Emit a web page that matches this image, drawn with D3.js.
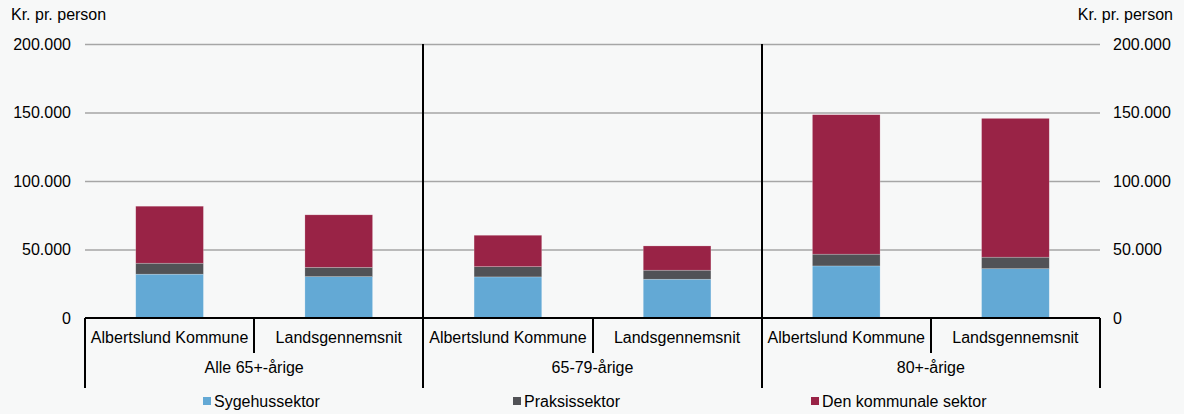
<!DOCTYPE html>
<html>
<head>
<meta charset="utf-8">
<script src="https://cdn.jsdelivr.net/npm/d3@7"></script>
<style>
  html, body { margin: 0; padding: 0; background: #f7f8f8; }
  svg { display: block; font-family: "Liberation Sans", Arial, sans-serif; }
</style>
</head>
<body>
<svg id="chart" width="1184" height="414"></svg>
<script>
// ---- Data ----
const groups = ["Alle 65+-årige", "65-79-årige", "80+-årige"];
const subCategories = ["Albertslund Kommune", "Landsgennemsnit"];
const seriesNames = ["Sygehussektor", "Praksissektor", "Den kommunale sektor"];
const sygehussektor = [32000, 30200, 30000, 28300, 38000, 36000];
const praksissektor = [8000, 6800, 7500, 6600, 8600, 8400];
const kommunaleSektor = [41600, 38300, 22900, 17700, 101800, 101300];
const yTicks = [0, 50000, 100000, 150000, 200000];
const axisTitle = "Kr. pr. person";
const colors = ["#63a9d5", "#515256", "#992346"];

(function () {
const cats = [];
groups.forEach((g, gi) => subCategories.forEach((s, si) => cats.push({ id: gi + "-" + si, group: g, gi, sub: s })));
const table = cats.map((c, i) => ({
  id: c.id,
  "Sygehussektor": sygehussektor[i],
  "Praksissektor": praksissektor[i],
  "Den kommunale sektor": kommunaleSektor[i]
}));
const stacked = d3.stack().keys(seriesNames)(table);

const svg = d3.select("#chart");
const pLeft = 85, pRight = 1100, pTop = 44, pBottom = 318;

const x = d3.scaleBand().domain(cats.map(c => c.id)).range([pLeft, pRight]).paddingInner(0.6).paddingOuter(0.3);
const y = d3.scaleLinear().domain([0, 200000]).range([pBottom, pTop]);
const fmt = d3.formatLocale({ decimal: ",", thousands: ".", grouping: [3], currency: ["", ""] }).format(",.0f");

// Gridlines
const grid = svg.append("g").attr("transform", `translate(${pLeft},0)`)
  .call(d3.axisLeft(y).tickValues(yTicks.filter(v => v > 0)).tickSize(-(pRight - pLeft)).tickFormat(""));
grid.select(".domain").remove();
grid.selectAll("line").attr("stroke", "#a6a6a6").attr("stroke-width", 1.3);

// Left axis labels
const yl = svg.append("g").attr("transform", `translate(${pLeft},0)`)
  .call(d3.axisLeft(y).tickValues(yTicks).tickSize(0).tickPadding(14).tickFormat(fmt));
yl.select(".domain").remove();
yl.selectAll("text").attr("font-size", 16).attr("fill", "#000").attr("font-family", "Liberation Sans, Arial, sans-serif");

// Right axis labels
const yr = svg.append("g").attr("transform", `translate(${pRight},0)`)
  .call(d3.axisRight(y).tickValues(yTicks).tickSize(0).tickPadding(13).tickFormat(fmt));
yr.select(".domain").remove();
yr.selectAll("text").attr("font-size", 16).attr("fill", "#000").attr("font-family", "Liberation Sans, Arial, sans-serif");

// Axis titles
svg.append("text").attr("x", 11).attr("y", 20).attr("font-size", 16).attr("fill", "#000").text(axisTitle);
svg.append("text").attr("x", 1173).attr("y", 20).attr("text-anchor", "end").attr("font-size", 16).attr("fill", "#000").text(axisTitle);

// Bars
svg.append("g").selectAll("g").data(stacked).join("g")
  .attr("fill", (d, i) => colors[i])
  .selectAll("rect").data(d => d).join("rect")
  .attr("x", d => x(d.data.id))
  .attr("width", x.bandwidth())
  .attr("y", d => y(d[1]))
  .attr("height", d => y(d[0]) - y(d[1]))
  .attr("stroke", "rgba(255,255,255,0.35)")
  .attr("stroke-width", 0.6);

// Category axis
const step = x.step();
const axisG = svg.append("g").attr("stroke", "#000").attr("stroke-width", 2);
axisG.append("line").attr("x1", pLeft).attr("x2", pRight).attr("y1", pBottom).attr("y2", pBottom);
for (let i = 0; i <= cats.length; i++) {
  const bx = Math.round(pLeft + i * step);
  const isGroupEdge = i % subCategories.length === 0;
  const isOuter = i === 0 || i === cats.length;
  axisG.append("line")
    .attr("x1", bx).attr("x2", bx)
    .attr("y1", isGroupEdge && !isOuter ? pTop : pBottom)
    .attr("y2", isGroupEdge ? 388 : 353);
}
// sub labels
svg.append("g").selectAll("text").data(cats).join("text")
  .attr("x", (d, i) => pLeft + i * step + step / 2)
  .attr("y", 337)
  .attr("dy", "0.35em")
  .attr("text-anchor", "middle")
  .attr("font-size", 16).attr("fill", "#000")
  .text(d => d.sub);
// group labels
svg.append("g").selectAll("text").data(groups).join("text")
  .attr("x", (d, i) => pLeft + (i + 0.5) * step * subCategories.length)
  .attr("y", 367)
  .attr("dy", "0.35em")
  .attr("text-anchor", "middle")
  .attr("font-size", 16).attr("fill", "#000")
  .text(d => d);

// Legend
const legendX = [203, 513, 811];
const lg = svg.append("g").selectAll("g").data(seriesNames).join("g")
  .attr("transform", (d, i) => `translate(${legendX[i]},397)`);
lg.append("rect").attr("width", 8).attr("height", 8).attr("fill", (d, i) => colors[i]);
lg.append("text").attr("x", 11).attr("y", 4).attr("dy", "0.35em").attr("font-size", 16).attr("fill", "#000").text(d => d);
})();
</script>
</body>
</html>
